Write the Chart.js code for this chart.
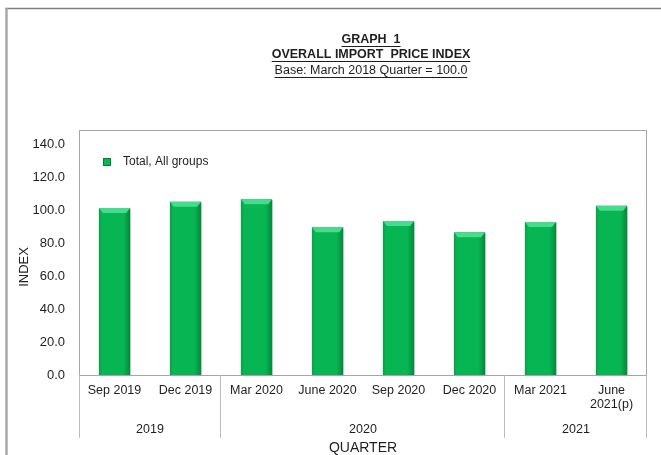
<!DOCTYPE html>
<html>
<head>
<meta charset="utf-8">
<script src="https://cdn.jsdelivr.net/npm/chart.js@4.4.0/dist/chart.umd.min.js"></script>
<style>
html, body { margin: 0; padding: 0; background: #fff; }
canvas { display: block; }
</style>
</head>
<body>
<canvas id="canvas" width="661" height="455"></canvas>
<script>
var quarters = ['Sep 2019', 'Dec 2019', 'Mar 2020', 'June 2020', 'Sep 2020', 'Dec 2020', 'Mar 2021', ['June', '2021(p)']];
var indexValues = [101.6, 105.3, 106.9, 89.9, 93.7, 86.8, 93.1, 102.9];
var yearLabels = ['2019', '2020', '2021'];
var yearSpans = [2, 4, 2]; // how many quarters sit under each year
var yTicks = [0, 20, 40, 60, 80, 100, 120, 140];
var seriesName = 'Total, All groups';
var titleLines = ['GRAPH  1', 'OVERALL IMPORT  PRICE INDEX', 'Base: March 2018 Quarter = 100.0'];

var FONT = '"Liberation Sans", Arial, sans-serif';
var TEXT = '#1e1e1e';
var GREEN = '#08b553';

// frame, titles, legend, bar shading and the year row of the category axis
var decorations = {
	id: 'decorations',
	beforeDraw: function(chart){
		var ctx = chart.ctx;
		ctx.save();
		ctx.fillStyle = '#fff';
		ctx.fillRect(0, 0, chart.width, chart.height);
		ctx.strokeStyle = '#808080';
		ctx.lineWidth = 1.5;
		ctx.beginPath();
		ctx.moveTo(5, 8.5);
		ctx.lineTo(chart.width, 8.5);
		ctx.stroke();
		ctx.strokeStyle = '#a9a9a9';
		ctx.lineWidth = 2.5;
		ctx.beginPath();
		ctx.moveTo(6.5, 8);
		ctx.lineTo(6.5, chart.height);
		ctx.stroke();

		// title lines, underlined
		var titleY = [39.5, 55, 70.5];
		ctx.fillStyle = TEXT;
		ctx.strokeStyle = TEXT;
		ctx.lineWidth = 1;
		ctx.textAlign = 'center';
		ctx.textBaseline = 'middle';
		for (var i = 0; i < titleLines.length; i++){
			ctx.font = (i < 2 ? 'bold ' : '') + '12.5px ' + FONT;
			ctx.fillText(titleLines[i], 371, titleY[i]);
			var w = ctx.measureText(titleLines[i]).width;
			var uy = Math.round(titleY[i] + 6) + 0.5;
			ctx.beginPath();
			ctx.moveTo(371 - w / 2, uy);
			ctx.lineTo(371 + w / 2, uy);
			ctx.stroke();
		}
		ctx.restore();
	},
	afterDatasetsDraw: function(chart){
		var ctx = chart.ctx;
		var meta = chart.getDatasetMeta(0);
		ctx.save();
		meta.data.forEach(function(bar){
			var p = bar.getProps(['x', 'y', 'base', 'width'], true);
			var l = p.x - p.width / 2, r = p.x + p.width / 2;
			var g = ctx.createLinearGradient(l, 0, r, 0);
			g.addColorStop(0, 'rgba(0,60,20,0.18)');
			g.addColorStop(0.1, 'rgba(0,60,20,0)');
			g.addColorStop(0.78, 'rgba(0,60,20,0)');
			g.addColorStop(1, 'rgba(0,50,15,0.35)');
			ctx.fillStyle = g;
			ctx.fillRect(l, p.y, p.width, p.base - p.y);
			// lighter bevel on top
			ctx.fillStyle = '#45dc8c';
			ctx.beginPath();
			ctx.moveTo(l, p.y);
			ctx.lineTo(r, p.y);
			ctx.lineTo(r - 4, p.y + 5);
			ctx.lineTo(l + 4, p.y + 5);
			ctx.closePath();
			ctx.fill();
			ctx.strokeStyle = 'rgba(120,120,120,0.35)';
			ctx.lineWidth = 1;
			ctx.beginPath();
			ctx.moveTo(r + 0.5, p.y + 1);
			ctx.lineTo(r + 0.5, p.base);
			ctx.stroke();
		});
		ctx.restore();
	},
	afterDraw: function(chart){
		var ctx = chart.ctx;
		var area = chart.chartArea;
		var xs = chart.scales.x;
		ctx.save();
		// plot box
		ctx.strokeStyle = '#a6a6a6';
		ctx.lineWidth = 1;
		ctx.strokeRect(area.left + 0.5, area.top + 0.5, area.right - area.left - 1, area.bottom - area.top);

		// year group row
		var half = (xs.getPixelForTick(1) - xs.getPixelForTick(0)) / 2;
		var start = 0;
		ctx.strokeStyle = '#bdbdbd';
		ctx.fillStyle = TEXT;
		ctx.font = '12.5px ' + FONT;
		ctx.textAlign = 'center';
		ctx.textBaseline = 'middle';
		var edge = Math.round(xs.getPixelForTick(0) - half) + 0.5;
		ctx.beginPath();
		ctx.moveTo(edge, area.bottom);
		ctx.lineTo(edge, area.bottom + 63);
		ctx.stroke();
		for (var i = 0; i < yearLabels.length; i++){
			var end = start + yearSpans[i] - 1;
			var left = xs.getPixelForTick(start) - half;
			var right = xs.getPixelForTick(end) + half;
			ctx.fillText(yearLabels[i], (left + right) / 2, area.bottom + 55);
			var rx = Math.round(right) - 0.5;
			ctx.beginPath();
			ctx.moveTo(rx, area.bottom);
			ctx.lineTo(rx, area.bottom + 63);
			ctx.stroke();
			start = end + 1;
		}

		// axis titles
		ctx.font = '14px ' + FONT;
		ctx.fillText('QUARTER', (area.left + area.right) / 2, 448);
		ctx.save();
		ctx.translate(24, 267);
		ctx.rotate(-Math.PI / 2);
		ctx.font = '13px ' + FONT;
		ctx.fillText('INDEX', 0, 0);
		ctx.restore();

		// legend
		var ds = chart.data.datasets[0];
		ctx.fillStyle = ds.backgroundColor;
		ctx.fillRect(103, 158, 8, 8);
		ctx.strokeStyle = '#067a38';
		ctx.strokeRect(103.5, 158.5, 7, 7);
		ctx.fillStyle = TEXT;
		ctx.font = '12px ' + FONT;
		ctx.textAlign = 'left';
		ctx.fillText(ds.label, 123, 162);
		ctx.restore();
	}
};

var config = {
	type: 'bar',
	data: {
		labels: quarters,
		datasets: [{
			label: seriesName,
			data: indexValues,
			backgroundColor: GREEN,
			borderWidth: 0,
			barPercentage: 0.44,
			categoryPercentage: 1
		}]
	},
	options: {
		responsive: false,
		animation: false,
		devicePixelRatio: 1,
		layout: {padding: {top: 130, right: 14, left: 0, bottom: 0}},
		plugins: {
			legend: {display: false},
			title: {display: false},
			tooltip: {enabled: false}
		},
		scales: {
			x: {
				grid: {display: false, drawTicks: false},
				border: {display: false},
				ticks: {
					color: TEXT,
					font: {family: FONT, size: 12.5, lineHeight: '14px'},
					padding: 9,
					maxRotation: 0,
					autoSkip: false
				},
				afterFit: function(scale){ scale.height = 80; }
			},
			y: {
				min: 0,
				max: 149,
				grid: {display: false, drawTicks: false},
				border: {display: false},
				ticks: {
					color: TEXT,
					font: {family: FONT, size: 13},
					padding: 14,
					callback: function(v){ return Number(v).toFixed(1); }
				},
				afterBuildTicks: function(scale){
					scale.ticks = yTicks.map(function(v){ return {value: v}; });
				},
				afterFit: function(scale){ scale.width = 79; }
			}
		}
	},
	plugins: [decorations]
};

var ctx = document.getElementById('canvas').getContext('2d');
window.myBar = new Chart(ctx, config);
</script>
</body>
</html>
